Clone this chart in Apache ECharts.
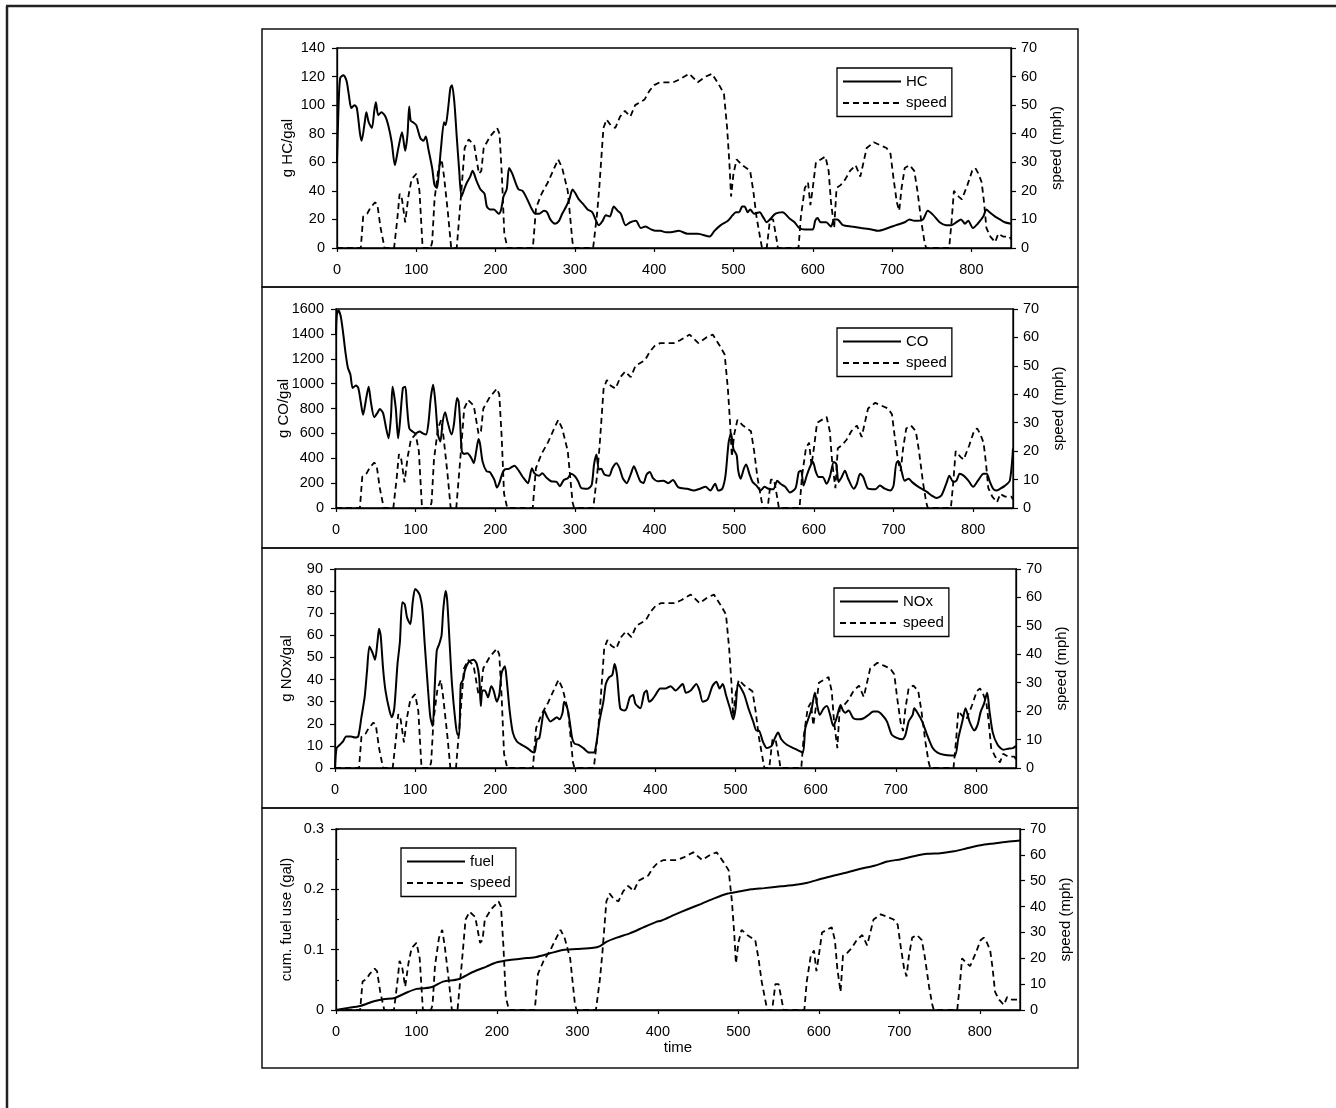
<!DOCTYPE html>
<html>
<head>
<meta charset="utf-8">
<script src="https://cdn.jsdelivr.net/npm/echarts/dist/echarts.min.js"></script>
<style>
  html, body { margin: 0; background: #fff; }
  #chart { width: 1336px; height: 1108px; }
</style>
</head>
<body>
<div id="chart"></div>
<script>
// [time (s), speed (mph)] - same trace in every panel
const speed = [[0,0],[30,0],[33,11],[38,12],[42,14],[48,16],[51,15],[55,7],[60,0],[72,0],[76,10],[79,19],[82,17],[86,9],[90,18],[94,24],[100,26],[104,20],[108,0],[118,0],[120,2],[123,17],[128,28],[132,31],[135,25],[140,12],[144,0],[151,0],[156,17],[161,35],[166,38],[173,36],[179,26],[182,27],[185,35],[193,39],[202,42],[205,40],[208,25],[211,5],[215,0],[247,0],[251,14],[258,19],[266,23],[274,28],[279,31],[284,28],[291,20],[297,2],[299,0],[323,0],[328,12],[331,22],[336,42],[340,45],[345,43],[351,42],[357,46],[363,48],[370,46],[376,50],[382,51],[388,52],[394,55],[400,57],[407,58],[415,58],[424,58],[432,59],[444,61],[455,58],[465,60],[473,61],[482,57],[488,54],[492,42],[495,29],[497,18],[500,26],[504,31],[511,29],[521,27],[525,20],[529,11],[534,3],[536,0],[542,0],[546,10],[550,10],[555,2],[556,0],[582,0],[585,11],[590,21],[594,23],[597,15],[600,21],[604,30],[610,31],[616,32],[620,27],[623,16],[627,7],[630,21],[635,22],[641,24],[647,27],[654,29],[660,25],[664,30],[668,35],[677,37],[685,36],[693,35],[698,33],[702,24],[706,16],[709,13],[712,21],[716,28],[722,29],[728,27],[732,20],[737,9],[741,2],[743,0],[772,0],[775,9],[778,20],[784,18],[788,17],[795,22],[801,27],[805,28],[809,26],[813,23],[816,16],[819,7],[824,4],[830,2],[834,5],[840,4],[848,4],[850,3]];

// g HC/gal
const hc = [[0,60],[2,100],[4,119],[8,121],[12,117],[15,107],[18,98],[22,100],[25,98],[29,80],[31,75],[35,88],[37,95],[40,88],[44,84],[47,96],[49,102],[52,93],[56,95],[61,92],[65,85],[69,74],[73,58],[77,69],[82,81],[86,68],[89,80],[91,99],[93,89],[96,88],[100,86],[105,77],[109,75],[112,78],[115,70],[120,56],[123,44],[126,42],[128,50],[131,69],[135,88],[137,86],[140,97],[143,112],[145,114],[148,102],[151,78],[154,55],[157,36],[161,42],[164,46],[168,50],[171,54],[176,47],[181,41],[186,38],[189,29],[193,27],[198,27],[204,24],[207,27],[210,36],[214,41],[217,56],[221,52],[225,46],[229,41],[234,40],[240,34],[245,28],[250,24],[255,24],[261,26],[265,25],[269,20],[275,17],[280,19],[284,24],[289,29],[293,34],[297,41],[301,38],[305,34],[310,31],[316,27],[322,25],[326,20],[330,16],[335,19],[339,23],[344,22],[349,29],[354,26],[358,24],[364,16],[370,18],[377,19],[383,14],[389,15],[396,13],[402,12],[408,12],[415,11],[421,11],[431,12],[442,10],[455,10],[470,8],[476,12],[484,16],[493,19],[499,23],[503,25],[507,25],[511,29],[514,29],[518,25],[521,27],[526,24],[533,25],[537,22],[542,18],[546,20],[553,24],[562,25],[570,21],[577,18],[583,14],[590,13],[600,13],[603,19],[606,21],[610,18],[617,18],[623,15],[627,20],[631,20],[638,16],[649,15],[661,14],[674,13],[682,12],[695,14],[705,16],[716,18],[722,20],[728,19],[739,20],[745,26],[752,23],[760,18],[768,16],[775,16],[781,18],[787,20],[792,17],[796,19],[802,14],[808,17],[815,22],[819,27],[823,25],[830,22],[836,20],[842,18],[850,17]];

// g CO/gal
const co = [[0,1390],[1,1550],[3,1590],[6,1540],[9,1405],[12,1245],[15,1125],[18,1075],[21,965],[25,985],[28,965],[31,855],[34,750],[38,885],[41,975],[44,845],[48,730],[52,765],[55,795],[59,765],[63,640],[66,560],[69,735],[71,975],[75,805],[78,560],[80,670],[84,965],[87,975],[89,830],[92,640],[96,615],[100,600],[105,615],[109,600],[113,590],[116,680],[119,885],[122,990],[125,830],[128,590],[131,535],[134,695],[137,770],[140,695],[145,590],[148,670],[152,885],[154,855],[156,670],[158,455],[161,435],[165,440],[170,400],[173,360],[176,455],[179,555],[181,510],[184,375],[189,295],[193,290],[196,260],[199,225],[202,165],[205,200],[209,280],[212,310],[217,315],[224,340],[230,295],[235,245],[241,200],[246,320],[249,280],[255,260],[259,280],[264,245],[270,215],[277,210],[281,175],[286,225],[291,240],[295,275],[300,255],[304,215],[308,160],[316,155],[321,185],[324,350],[327,430],[330,310],[333,315],[337,270],[343,260],[347,320],[352,360],[356,320],[360,240],[365,200],[370,270],[374,335],[377,295],[382,215],[386,200],[390,270],[394,290],[398,240],[404,215],[411,220],[417,200],[423,225],[430,165],[441,155],[449,140],[457,155],[464,170],[470,140],[476,195],[480,140],[485,155],[489,260],[493,530],[496,600],[499,475],[503,425],[505,300],[508,235],[512,315],[515,350],[519,275],[523,210],[528,180],[533,140],[538,170],[543,155],[549,150],[554,220],[558,195],[564,170],[570,125],[577,160],[581,290],[584,300],[587,180],[591,260],[595,330],[599,370],[602,300],[606,250],[611,250],[616,195],[620,250],[625,370],[628,355],[631,210],[635,250],[639,300],[643,235],[650,155],[654,195],[658,275],[662,250],[668,155],[677,150],[683,180],[689,155],[696,140],[700,180],[704,370],[707,370],[710,300],[714,220],[719,235],[723,210],[729,180],[735,155],[742,130],[748,100],[754,80],[760,100],[767,210],[770,260],[775,210],[779,220],[783,275],[788,260],[794,220],[800,170],[806,220],[813,275],[817,275],[821,210],[825,155],[829,140],[834,155],[840,180],[846,220],[850,480]];

// g NOx/gal
const nox = [[0,0],[2,9],[6,10.5],[10,12],[14,14.3],[20,14.3],[25,13.8],[29,14.3],[33,23],[37,32],[40,44],[43,55],[47,52],[50,49],[53,57],[55,63],[57,60],[60,45],[63,35],[68,26],[71,23],[74,27],[78,47],[81,57],[84,75],[87,74],[90,68],[94,65],[97,75],[100,81],[103,80],[106,78],[109,72],[112,56],[116,36],[119,23],[122,19],[124,33],[127,53],[130,56],[133,60],[135,71],[138,80],[140,76],[143,57],[146,38],[150,22],[153,15],[155,15],[157,38],[160,40],[162,44],[167,48],[173,49],[177,47],[180,41],[182,28],[184,35],[187,35],[191,32],[195,37],[198,35],[202,30],[205,33],[208,43],[212,46],[214,41],[218,26],[222,16],[227,12],[233,10.5],[240,9],[245,7.5],[249,7],[252,13],[255,13.5],[258,20],[261,26],[265,23],[269,21],[273,22],[277,23],[280,22],[284,25],[286,30],[290,27],[293,21],[296,13.5],[299,11],[304,10.5],[310,9],[317,7],[323,7],[326,10.5],[330,21],[335,30],[338,38],[342,41],[346,42],[349,47],[352,42],[356,27],[361,26],[364,27],[368,32],[372,33],[375,29],[381,27],[386,34],[389,35],[392,30],[396,31],[400,33],[406,36],[413,36],[419,37],[425,35],[434,38],[438,34],[444,35],[451,38],[455,35],[459,30],[465,31],[471,37],[476,39],[480,36],[484,38],[488,33],[493,27],[497,22],[500,27],[503,38],[507,36],[511,33],[516,27],[522,21],[526,17],[529,17],[534,12],[539,9],[545,10],[549,13.5],[553,16],[557,13],[564,10.5],[572,9],[578,8],[584,7],[587,18],[591,22.5],[595,27],[599,34],[602,28],[605,24],[610,27],[614,28],[618,24],[622,19],[626,22.5],[631,28.5],[634,26],[637,25],[641,26],[647,22.5],[654,22],[660,22.5],[666,24],[672,25.5],[677,25.5],[683,24],[689,21],[695,15],[702,13.5],[708,13],[712,15],[716,21],[721,24],[723,27],[727,25],[733,21],[739,15],[746,9],[752,7],[760,6],[769,5.7],[774,5.7],[778,13.5],[783,21],[787,27],[792,21],[798,17],[802,19.5],[806,25.5],[810,29],[814,34],[817,25.5],[821,16],[827,10.5],[834,8.3],[840,8.7],[846,9],[850,10]];

// cumulative fuel use (gal)
const fuel = [[0,0],[13,0.003],[30,0.0066],[46,0.014],[59,0.018],[73,0.020],[88,0.029],[100,0.035],[110,0.036],[121,0.039],[133,0.047],[152,0.051],[170,0.063],[187,0.072],[200,0.079],[216,0.083],[237,0.086],[249,0.088],[266,0.094],[282,0.0995],[299,0.101],[320,0.103],[328,0.106],[336,0.113],[349,0.12],[365,0.127],[382,0.137],[398,0.146],[404,0.148],[421,0.158],[437,0.167],[454,0.176],[470,0.185],[487,0.193],[499,0.196],[516,0.2],[532,0.202],[553,0.205],[569,0.207],[586,0.211],[602,0.217],[619,0.223],[635,0.228],[652,0.234],[669,0.239],[685,0.246],[702,0.25],[718,0.255],[735,0.259],[751,0.26],[768,0.263],[784,0.268],[801,0.273],[817,0.276],[834,0.279],[850,0.281]];

const panelNames = ['HC', 'CO', 'NOx', 'fuel'];
const leftTitles = ['g HC/gal', 'g CO/gal', 'g NOx/gal', 'cum. fuel use (gal)'];
const leftMax = [140, 1600, 90, 0.3];
const leftStep = [20, 200, 10, 0.1];
const speedMax = 70, speedStep = 10;
const timeMax = 850, timeStep = 100;

const FONT = "'Liberation Sans', Arial, sans-serif";
const grids = [
  { left: 337, top: 48, width: 674, height: 200 },
  { left: 336, top: 309, width: 677, height: 199 },
  { left: 335, top: 569, width: 681, height: 199 },
  { left: 336, top: 829, width: 684, height: 181 }
];
const legendPos = [
  { left: 837, top: 68 },
  { left: 837, top: 328 },
  { left: 834, top: 588 },
  { left: 401, top: 848 }
];
const leftGap = [42, 44.5, 40.5, 41.5];
const pollutant = [hc, co, nox, fuel];

const axisLine = { show: true, lineStyle: { color: '#000', width: 1.3 } };
const plain = function (v) { return String(+v.toFixed(3)); };
const lbl = { color: '#000', fontSize: 14.5, fontFamily: FONT, formatter: plain };
const nameStyle = { color: '#000', fontSize: 15, fontFamily: FONT };

const xAxis = [], yAxis = [], series = [], legend = [];
grids.forEach(function (g, i) {
  g.show = true;
  g.borderColor = '#000';
  g.borderWidth = 1.3;
  xAxis.push({
    type: 'value', gridIndex: i, min: 0, max: timeMax, interval: timeStep,
    axisLine: axisLine,
    axisTick: { show: true, length: 4, lineStyle: { color: '#000', width: 1.2 } },
    axisLabel: Object.assign({ margin: 14, showMaxLabel: false }, lbl),
    splitLine: { show: false },
    name: i === 3 ? 'time' : '',
    nameLocation: 'middle', nameGap: 30, nameMoveOverlap: false,
    nameTextStyle: nameStyle
  });
  yAxis.push({
    type: 'value', gridIndex: i, position: 'left', min: 0, max: leftMax[i], interval: leftStep[i],
    axisLine: axisLine,
    axisTick: { show: true, length: 5, lineStyle: { color: '#000', width: 1.2 } },
    axisLabel: Object.assign({ margin: 12 }, lbl),
    splitLine: { show: false },
    name: leftTitles[i], nameLocation: 'middle', nameRotate: 90, nameGap: leftGap[i],
    nameMoveOverlap: false,
    nameTextStyle: nameStyle
  });
  yAxis.push({
    type: 'value', gridIndex: i, position: 'right', min: 0, max: speedMax, interval: speedStep,
    axisLine: axisLine,
    axisTick: { show: true, length: 5, lineStyle: { color: '#000', width: 1.2 } },
    axisLabel: Object.assign({ margin: 10 }, lbl),
    splitLine: { show: false },
    name: 'speed (mph)', nameLocation: 'middle', nameRotate: 90, nameGap: 38,
    nameMoveOverlap: false,
    nameTextStyle: nameStyle
  });
  series.push({
    name: panelNames[i], type: 'line', xAxisIndex: i, yAxisIndex: 2 * i,
    data: pollutant[i], symbol: 'none', smooth: 0.25, color: '#000',
    lineStyle: { color: '#000', width: 2, type: 'solid' }, z: 3
  });
  series.push({
    name: 'speed', type: 'line', xAxisIndex: i, yAxisIndex: 2 * i + 1,
    data: speed, symbol: 'none', color: '#000',
    lineStyle: { color: '#000', width: 1.8, type: [6, 4] }, z: 2
  });
  legend.push({
    data: [panelNames[i], 'speed'],
    left: legendPos[i].left, top: legendPos[i].top,
    orient: 'vertical', selectedMode: false,
    itemWidth: 58, itemHeight: 15, itemGap: 6.5,
    padding: [6, 5, 6, 5],
    borderColor: '#000', borderWidth: 1.3,
    itemStyle: { opacity: 0 },
    textStyle: { color: '#000', fontSize: 15, fontFamily: FONT }
  });
});

// minor inside ticks on the fuel axis
yAxis.push({
  type: 'value', gridIndex: 3, position: 'left', min: 0, max: 0.3, interval: 0.05,
  axisLine: { show: false },
  axisTick: { show: true, inside: true, length: 3, lineStyle: { color: '#000', width: 1.2 } },
  axisLabel: { show: false }, splitLine: { show: false }
});

const panelTops = [29, 287, 548, 808, 1068];
const graphic = [
  { type: 'line', shape: { x1: 6, y1: 6, x2: 1336, y2: 6 }, style: { stroke: '#222', lineWidth: 2.5 } },
  { type: 'line', shape: { x1: 7, y1: 6, x2: 7, y2: 1108 }, style: { stroke: '#222', lineWidth: 2.5 } }
];
for (let k = 0; k < 4; k++) {
  graphic.push({
    type: 'rect',
    shape: { x: 262, y: panelTops[k], width: 816, height: panelTops[k + 1] - panelTops[k] },
    style: { fill: 'none', stroke: '#111', lineWidth: 1.5 }
  });
}

const chart = echarts.init(document.getElementById('chart'));
chart.setOption({
  backgroundColor: '#fff',
  animation: false,
  grid: grids,
  xAxis: xAxis,
  yAxis: yAxis,
  series: series,
  legend: legend,
  graphic: graphic
});
</script>
</body>
</html>
